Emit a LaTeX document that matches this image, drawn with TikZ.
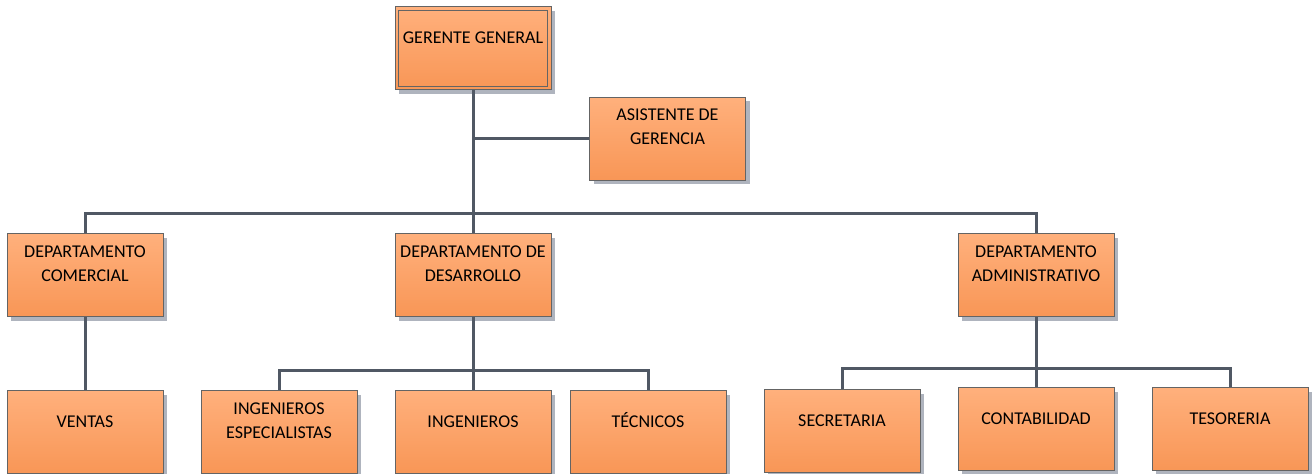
\documentclass[tikz,border=0pt]{standalone}
\usepackage{fontspec}
\setmainfont{Carlito}
\usepackage{tikz}
\usetikzlibrary{shadows}

\definecolor{boxtop}{RGB}{255,176,124}
\definecolor{boxbottom}{RGB}{248,150,86}
\definecolor{boxline}{RGB}{100,100,100}
\definecolor{linkline}{RGB}{80,88,100}
\definecolor{shade}{RGB}{175,180,190}

\begin{document}
\begin{tikzpicture}[x=0.5pt, y=-0.5pt,
        unit/.style={draw=boxline, line width=0.5pt, top color=boxtop, bottom color=boxbottom,
                drop shadow={shadow xshift=2pt, shadow yshift=-2pt, fill=shade, opacity=1},
                text width=78pt, align=flush center, inner xsep=0pt, inner ysep=0pt,
                font=\fontsize{9}{12}\selectfont},
        one/.style={unit, text height=18.1pt, text depth=23.4pt},
        two/.style={unit, text height=11.7pt, text depth=29.8pt},
        link/.style={draw=linkline, line width=1.5pt}]
        \useasboundingbox (0,0) rectangle (1314,474);
        \node[one] (gerente) at (473,48.5) {GERENTE GENERAL};
        \draw[boxline, line width=0.5pt] ([shift={(4,4)}]gerente.north west) rectangle ([shift={(-4,-4)}]gerente.south east);
        \node[two] (asistente) at (667.5,139) {ASISTENTE DE\\GERENCIA};
        \node[two] (comercial) at (85,275.5) {DEPARTAMENTO\\COMERCIAL};
        \node[two] (desarrollo) at (473,275.5) {DEPARTAMENTO DE\\DESARROLLO};
        \node[two] (administrativo) at (1036,275.5) {DEPARTAMENTO\\ADMINISTRATIVO};
        \node[one] (ventas) at (85,432.5) {VENTAS};
        \node[two] (especialistas) at (279,432.5) {INGENIEROS\\ESPECIALISTAS};
        \node[one] (ingenieros) at (473,432.5) {INGENIEROS};
        \node[one] (tecnicos) at (648,432.5) {TÉCNICOS};
        \node[one] (secretaria) at (842,431.5) {SECRETARIA};
        \node[one] (contabilidad) at (1036,429.5) {CONTABILIDAD};
        \node[one] (tesoreria) at (1230,429.5) {TESORERIA};
        \coordinate (bar) at (473,214);
        \coordinate (dbar) at (473,371);
        \coordinate (abar) at (1036,369);
        \draw[link] (gerente.south) -- (desarrollo.north);
        \draw[link] (asistente.west) -- (asistente.west -| gerente.south);
        \draw[link] (comercial.north) |- (bar) -| (administrativo.north);
        \draw[link] (comercial.south) -- (ventas.north);
        \draw[link] (desarrollo.south) -- (ingenieros.north);
        \draw[link] (especialistas.north) |- (dbar) -| (tecnicos.north);
        \draw[link] (administrativo.south) -- (contabilidad.north);
        \draw[link] (secretaria.north) |- (abar) -| (tesoreria.north);
\end{tikzpicture}
\end{document}
